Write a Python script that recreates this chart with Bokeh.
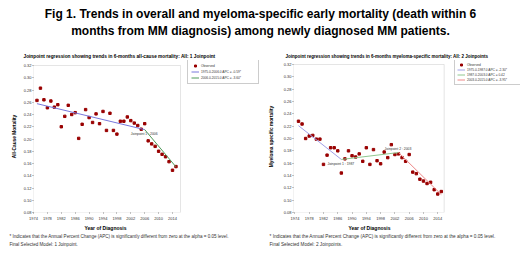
from bokeh.plotting import figure
from bokeh.models import (ColumnDataSource, Legend, LegendItem, Title, Label, BoxAnnotation,
                          FixedTicker, NumeralTickFormatter, Range1d)
from bokeh.layouts import column, row
from bokeh.embed import file_html
from bokeh.resources import INLINE
from bokeh.core.properties import value

# ---------------- data ----------------
years = list(range(1975, 2016))
all_cause = [0.263, 0.283, 0.264, 0.251, 0.262, 0.252, 0.256, 0.220, 0.237, 0.255,
             0.240, 0.243, 0.201, 0.224, 0.248, 0.235, 0.227, 0.241, 0.225, 0.245,
             0.214, 0.242, 0.214, 0.208, 0.229, 0.229, 0.236, 0.230, 0.226, 0.222,
             0.216, 0.225, 0.197, 0.192, 0.188, 0.180, 0.175, 0.171, 0.163, 0.149,
             0.155]
myeloma = [0.228, 0.2235, 0.200, 0.204, 0.205, 0.199, 0.199, 0.158, 0.173, 0.185,
           0.185, 0.180, 0.144, 0.167, 0.180, 0.172, 0.170, 0.175, 0.163, 0.185,
           0.158, 0.182, 0.164, 0.159, 0.178, 0.169, 0.190, 0.174, 0.175, 0.169,
           0.163, 0.174, 0.1455, 0.143, 0.134, 0.131, 0.127, 0.129, 0.117, 0.110,
           0.114]

left_jp_years = [1975, 2006, 2015]
left_fit = [0.2577, 0.2153, 0.1545]
left_seg_labels = ["1975.0-2006.0 APC = -0.59*", "2006.0-2015.0 APC = -3.60*"]

right_jp_years = [1975, 1987, 2003, 2015]
right_fit = [0.2208, 0.1660, 0.1772, 0.1090]
right_seg_labels = ["1975.0-1987.0 APC = -2.30*", "1987.0-2003.0 APC = 0.42",
                    "2003.0-2015.0 APC = -3.95*"]

y_ticks = [0.08, 0.10, 0.12, 0.14, 0.16, 0.18, 0.20, 0.22, 0.24, 0.26, 0.28, 0.30, 0.32]
x_ticks = [1974, 1978, 1982, 1986, 1990, 1994, 1998, 2002, 2006, 2010, 2014]

main_title = ["Fig 1. Trends in overall and myeloma-specific early mortality (death within 6",
              "months from MM diagnosis) among newly diagnosed MM patients."]
left_title = "Joinpoint regression showing trends in 6-months all-cause mortality: All: 1 Joinpoint"
right_title = "Joinpoint regression showing trends in 6-months myeloma-specific mortality: All: 2 Joinpoints"
x_title = "Year of Diagnosis"
footnote1 = "* Indicates that the Annual Percent Change (APC) is significantly different from zero at the alpha = 0.05 level."
left_foot2 = "Final Selected Model: 1 Joinpoint."
right_foot2 = "Final Selected Model: 2 Joinpoints."

FONT = "Liberation Sans"
DOT = "#990000"

# ---------------- main title ----------------
tf = figure(width=520, height=44, x_range=Range1d(0, 520), y_range=Range1d(0, 44),
            toolbar_location=None, output_backend="svg", min_border=0,
            x_axis_location=None, y_axis_location=None)
tf.grid.visible = False
tf.outline_line_color = None
for txt, yy in zip(main_title, [31, 14]):
    tf.add_layout(Label(x=260, y=yy, text=txt, text_align="center", text_baseline="middle",
                        text_font=FONT, text_font_size="12px", text_font_style="bold",
                        text_color="black"))

FIG_H = 210
FRAME_TOP_PX = 16      # frame top inside figure (legend needs room above plot box)
FRAME_BOTTOM_PX = 42


def make_chart(width, mb_left, box_px_left, box_px_right, box_px_top, xr, ylabel, title,
               offset_title, yvals, jp_years, fit, seg_labels, seg_colors, leg_loc,
               leg_padding, leg_spacing, leg_label_width, foot2, jp_texts, jp_yoff,
               title_size, foot_size, ylab_standoff, xtitle_offset):
    frame_w = width - mb_left
    frame_h = FIG_H - FRAME_TOP_PX - FRAME_BOTTOM_PX
    box_w = box_px_right - box_px_left
    x_per_px = (xr[1] - xr[0]) / box_w
    x_end = xr[0] + frame_w * x_per_px
    box_h = frame_h - box_px_top
    y_per_px = (0.32 - 0.08) / box_h
    y_end = 0.32 + box_px_top * y_per_px

    p = figure(width=width, height=FIG_H, x_range=Range1d(xr[0], x_end),
               y_range=Range1d(0.08, y_end),
               toolbar_location=None, output_backend="svg",
               min_border_left=mb_left, min_border_right=0,
               min_border_top=FRAME_TOP_PX, min_border_bottom=FRAME_BOTTOM_PX)
    p.grid.visible = False
    p.outline_line_color = None
    p.add_layout(BoxAnnotation(left=xr[0], right=xr[1], bottom=0.08, top=0.32,
                               fill_alpha=0, line_color="#AAAAAA", line_width=1))
    p.title = Title(text=title, align="left", offset=offset_title, text_font=FONT,
                    text_font_size=title_size, text_font_style="bold", text_color="black",
                    standoff=4)
    for ax in (p.xaxis[0], p.yaxis[0]):
        ax.axis_line_color = None
        ax.major_tick_line_color = "#888888"
        ax.major_tick_in = 0
        ax.major_tick_out = 1
        ax.minor_tick_line_color = None
        ax.major_label_text_font = FONT
        ax.major_label_text_font_size = "4px"
        ax.major_label_text_color = "#333333"
        ax.major_label_standoff = 1
        ax.axis_label_text_font = FONT
        ax.axis_label_text_font_style = "bold"
        ax.axis_label_text_color = "black"
    p.xaxis.major_label_standoff = 3
    p.xaxis.ticker = FixedTicker(ticks=x_ticks)
    p.yaxis.ticker = FixedTicker(ticks=y_ticks)
    p.yaxis.formatter = NumeralTickFormatter(format="0.00")
    p.yaxis.axis_label = ylabel
    p.yaxis.axis_label_text_font_size = "4.8px"
    p.yaxis.axis_label_standoff = ylab_standoff

    src = ColumnDataSource(dict(x=years, y=yvals))
    sc = p.scatter("x", "y", source=src, marker="square", size=2.4,
                   fill_color=DOT, line_color=DOT)
    items = [LegendItem(label="Observed", renderers=[sc])]
    for i, (lab, col) in enumerate(zip(seg_labels, seg_colors)):
        r = p.line(jp_years[i:i + 2], fit[i:i + 2], line_color=col, line_width=1)
        items.append(LegendItem(label=lab, renderers=[r]))

    jsrc = ColumnDataSource(dict(x=[jp_years[k] for k in range(1, len(jp_years) - 1)],
                                 y=[fit[k] for k in range(1, len(fit) - 1)],
                                 t=jp_texts, yo=jp_yoff))
    p.text("x", "y", text="t", y_offset="yo", source=jsrc, text_align="center",
           text_baseline="middle", text_font=value(FONT), text_font_size="3.4px",
           text_color="#333333")

    leg = Legend(items=items, location=leg_loc, label_text_font=FONT,
                 label_text_font_size="3.2px", label_text_color="#333333",
                 glyph_width=8, glyph_height=5, label_height=5, label_standoff=2,
                 spacing=leg_spacing, padding=leg_padding, margin=0,
                 label_width=leg_label_width,
                 border_line_color="#999999", background_fill_color="white",
                 background_fill_alpha=1.0)
    p.add_layout(leg, "center")

    p.add_layout(Title(text=x_title, align="left", offset=xtitle_offset, text_font=FONT,
                       text_font_size="5px", text_font_style="bold", text_color="black",
                       standoff=1), "below")
    for txt, so in ((footnote1, 1), (foot2, 0)):
        p.add_layout(Title(text=txt, align="left", offset=-24, text_font=FONT,
                           text_font_size=foot_size, text_font_style="normal",
                           text_color="#333333", standoff=so), "below")
    return p


left = make_chart(265, 33, 33, 180, 5, (1974, 2016.3), "All-Cause Mortality", left_title, -10,
                  all_cause, left_jp_years, left_fit, left_seg_labels,
                  ["#7878DC", "#4F9A5A"], (154, 128), 3, 1, 54, left_foot2,
                  ["Joinpoint 1 :  2006"], [4], "4.75px", "4.55px", 4, 51)
right = make_chart(255, 26, 291, 443, 4, (1973.6, 2015.8), "Myeloma specific mortality",
                   right_title, -8,
                   myeloma, right_jp_years, right_fit, right_seg_labels,
                   ["#A0A0E8", "#90C890", "#EE8888"], (161, 127), 2, 0, 62, right_foot2,
                   ["Joinpoint 1 :  1987", "Joinpoint 2 :  2003"], [5, -4], "4.5px", "4.7px", 7, 55)

layout = column(tf, row(left, right))
open("out.html", "w").write(file_html(layout, INLINE))
